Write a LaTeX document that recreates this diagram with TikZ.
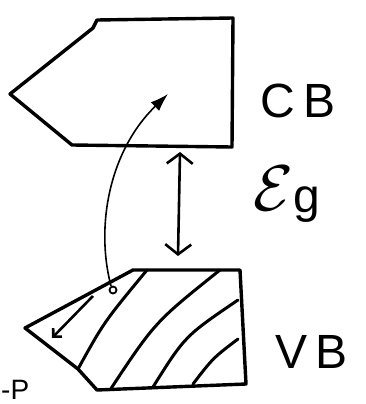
\documentclass[tikz,border=0pt]{standalone}
\usepackage{fontspec}
\setmainfont{Liberation Sans}
\usetikzlibrary{arrows.meta}
\begin{document}
\begin{tikzpicture}[x=1pt,y=-1pt,
  band/.style={line width=3.4pt,line join=round,line cap=round},
  hatch/.style={line width=3pt,line cap=round},
  gap/.style={line width=2.6pt,{Straight Barb[length=10pt,width=26pt,line width=2.6pt]}-{Straight Barb[length=10pt,width=26pt,line width=2.6pt]}},
  lbl/.style={font=\fontsize{48}{48}\selectfont,inner sep=0pt}]
\useasboundingbox (0,0) rectangle (366,404);
% conduction band
\draw[band] (97,20) -- (233,18) -- (232,147) -- (72,145) -- (10,94) -- (93,28) -- cycle;
% valence band
\draw[band] (133,270) -- (240,270) -- (246,384) -- (97,390) -- (78,369) -- (25,328) -- cycle;
% hatching
\draw[hatch] (78,369) .. controls (104,322) .. (147,270);
\draw[hatch] (110,390) .. controls (155,322) .. (220,270);
\draw[hatch] (153,387) .. controls (185,336) .. (238,300);
\draw[hatch] (193,384) .. controls (213,358) .. (238,339);
% hole and excitation arrow
\coordinate (hole) at (113,290);
\coordinate (tip) at (168,94);
\draw[line width=1.8pt] (hole) circle (3.5);
\draw[line width=1.6pt,-{Latex[length=18pt,width=12pt]}] (111,286) .. controls (95,225) and (110,150) .. (tip);
% small arrow in VB
\coordinate (sa) at (93,296);
\coordinate (sb) at (52,338);
\draw[line width=2.6pt,-{Straight Barb[length=6pt,width=12pt,line width=2.6pt]}] (sa) -- (sb);
% gap arrow
\coordinate (gt) at (180,152);
\coordinate (gb) at (178,256);
\draw[gap] (gt) -- (gb);
% labels
\node[lbl] (cb) at (298,101) {C\,B};
\node[lbl] (eg) at (287,194) {\raisebox{2pt}{\scalebox{2.6}{$\mathcal{E}$}}g};
\node[lbl] (vb) at (312,352) {V\,B};
\node[font=\fontsize{28}{28}\selectfont,inner sep=0pt,anchor=north west] (p) at (1,380) {-P};
\end{tikzpicture}
\end{document}
